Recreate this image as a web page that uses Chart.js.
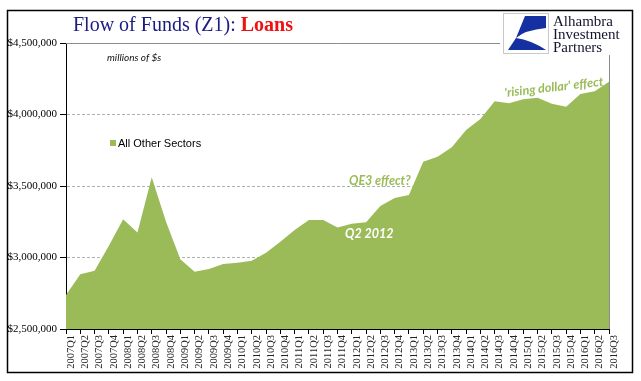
<!DOCTYPE html>
<html>
<head>
<meta charset="utf-8">
<script src="https://cdn.jsdelivr.net/npm/chart.js@4"></script>
<style>
  html, body { margin: 0; padding: 0; background: #fff; }
  #wrap { width: 641px; height: 381px; }
</style>
</head>
<body>
<div id="wrap"><canvas id="loansChart" width="641" height="381"></canvas></div>
<script>
// quarters 2007Q1 .. 2016Q3
const quarters = [
    '2007Q1', '2007Q2', '2007Q3', '2007Q4', '2008Q1', '2008Q2', '2008Q3', '2008Q4',
    '2009Q1', '2009Q2', '2009Q3', '2009Q4', '2010Q1', '2010Q2', '2010Q3', '2010Q4',
    '2011Q1', '2011Q2', '2011Q3', '2011Q4', '2012Q1', '2012Q2', '2012Q3', '2012Q4',
    '2013Q1', '2013Q2', '2013Q3', '2013Q4', '2014Q1', '2014Q2', '2014Q3', '2014Q4',
    '2015Q1', '2015Q2', '2015Q3', '2015Q4', '2016Q1', '2016Q2', '2016Q3'
];

// loans, all other sectors (millions of $)
const otherSectors = [
    2738000, 2882000, 2908000, 3083000, 3267000, 3174000, 3561000, 3250000,
    2987000, 2901000, 2920000, 2955000, 2964000, 2978000, 3034000, 3111000,
    3192000, 3262000, 3262000, 3209000, 3236000, 3246000, 3360000, 3416000,
    3437000, 3670000, 3705000, 3771000, 3892000, 3969000, 4092000, 4078000,
    4106000, 4118000, 4076000, 4055000, 4143000, 4162000, 4229000
];

const yTicks = [2500000, 3000000, 3500000, 4000000, 4500000];

const GREEN = '#9bbb59';
const NAVY = '#1b1b80';

// frame, title, logo, legend and notes drawn straight on the canvas
const decorations = {
    id: 'decorations',
    beforeDatasetsDraw(chart) {
        const { ctx, chartArea: a } = chart;
        ctx.save();
        ctx.strokeStyle = '#8c8c8c';
        ctx.lineWidth = 1;
        ctx.beginPath();
        ctx.moveTo(a.left, Math.round(a.top) + 0.5);
        ctx.lineTo(Math.round(a.right) + 0.5, Math.round(a.top) + 0.5);
        ctx.lineTo(Math.round(a.right) + 0.5, a.bottom);
        ctx.stroke();
        ctx.restore();
    },
    afterDraw(chart) {
        const { ctx, scales } = chart;
        const x = scales.x, y = scales.y;
        ctx.save();

        // outer border
        ctx.strokeStyle = '#000';
        ctx.lineWidth = 1.5;
        ctx.strokeRect(7.5, 10.5, 625, 362);

        // title
        ctx.textBaseline = 'alphabetic';
        ctx.textAlign = 'left';
        ctx.font = '20px "Liberation Serif", serif';
        ctx.fillStyle = NAVY;
        const part1 = 'Flow of Funds (Z1): ';
        ctx.fillText(part1, 73, 31);
        const w1 = ctx.measureText(part1).width;
        ctx.font = 'bold 20px "Liberation Serif", serif';
        ctx.fillStyle = '#ee1111';
        ctx.fillText('Loans', 73 + w1, 31);

        // logo
        ctx.fillStyle = '#fff';
        ctx.fillRect(500, 12, 130, 43);
        ctx.strokeStyle = '#c8c8c8';
        ctx.lineWidth = 1;
        ctx.strokeRect(503.5, 13.5, 45, 40);
        const lx = 503, ly = 13;
        ctx.fillStyle = '#1530a0';
        ctx.beginPath();
        ctx.moveTo(lx + 22, ly + 3);
        ctx.lineTo(lx + 43, ly + 3);
        ctx.lineTo(lx + 43, ly + 15);
        ctx.quadraticCurveTo(lx + 22, ly + 17, lx + 13, ly + 25);
        ctx.closePath();
        ctx.fill();
        ctx.beginPath();
        ctx.moveTo(lx + 13, ly + 25);
        ctx.quadraticCurveTo(lx + 28, ly + 27, lx + 43, ly + 37);
        ctx.lineTo(lx + 5, ly + 37);
        ctx.closePath();
        ctx.fill();
        ctx.font = '15px "Liberation Serif", serif';
        ctx.fillStyle = '#14142e';
        ctx.fillText('Alhambra', 553, 26);
        ctx.fillText('Investment', 553, 39);
        ctx.fillText('Partners', 553, 52);

        // units note
        ctx.font = 'italic 10px Lato, sans-serif';
        ctx.fillStyle = '#111';
        ctx.fillText('millions of $s', 107, 61);

        // legend
        ctx.fillStyle = GREEN;
        ctx.fillRect(110, 140, 6, 6);
        ctx.font = '11px "Liberation Sans", Arial, sans-serif';
        ctx.fillStyle = '#000';
        ctx.textBaseline = 'middle';
        ctx.fillText(chart.data.datasets[0].label, 118, 143.5);

        // annotations
        ctx.font = 'italic bold 12.5px Lato, sans-serif';
        ctx.textBaseline = 'alphabetic';
        ctx.fillStyle = GREEN;
        ctx.fillText('QE3 effect?', 349, 185);
        ctx.fillStyle = '#fff';
        ctx.fillText('Q2 2012', 345, 238);

        const rx = x.getPixelForValue(34), ry = y.getPixelForValue(4190000);
        ctx.translate(rx + 2, ry);
        ctx.rotate(-6.5 * Math.PI / 180);
        ctx.fillStyle = GREEN;
        ctx.textAlign = 'center';
        ctx.textBaseline = 'middle';
        ctx.fillText('\'rising dollar\' effect', 0, 0);
        ctx.restore();
    }
};

new Chart(document.getElementById('loansChart'), {
    type: 'line',
    data: {
        labels: quarters,
        datasets: [{
            label: 'All Other Sectors',
            data: otherSectors,
            borderWidth: 0,
            borderColor: GREEN,
            backgroundColor: GREEN,
            fill: 'origin',
            pointRadius: 0,
            tension: 0
        }]
    },
    options: {
        responsive: false,
        animation: false,
        layout: { padding: { top: 43, right: 32, left: 0, bottom: 0 } },
        plugins: {
            legend: { display: false },
            tooltip: { enabled: false }
        },
        scales: {
            x: {
                offset: false,
                afterFit(scale) { scale.height = 52; },
                grid: {
                    drawOnChartArea: false,
                    tickLength: 5,
                    tickColor: '#000'
                },
                border: { color: '#000', width: 1 },
                ticks: {
                    autoSkip: false,
                    maxRotation: 90,
                    minRotation: 90,
                    padding: 1,
                    labelOffset: 5,
                    color: '#222',
                    font: { family: '"Liberation Serif", serif', size: 10.5 }
                }
            },
            y: {
                min: yTicks[0],
                max: yTicks[yTicks.length - 1],
                afterFit(scale) { scale.width = 66; },
                afterBuildTicks(scale) { scale.ticks = yTicks.map(v => ({ value: v })); },
                grid: {
                    color: c => (c.tick && (c.tick.value === 4500000 || c.tick.value === 2500000)) ? 'rgba(0,0,0,0)' : '#b0b0b0',
                    tickLength: 6,
                    tickColor: '#000',
                    tickBorderDash: [1, 0]
                },
                border: { color: '#000', width: 1, dash: [3, 2] },
                ticks: {
                    padding: 3,
                    color: '#000',
                    font: { family: '"Liberation Serif", serif', size: 11 },
                    callback: v => '$' + Number(v).toLocaleString('en-US')
                }
            }
        }
    },
    plugins: [decorations]
});
</script>
</body>
</html>
